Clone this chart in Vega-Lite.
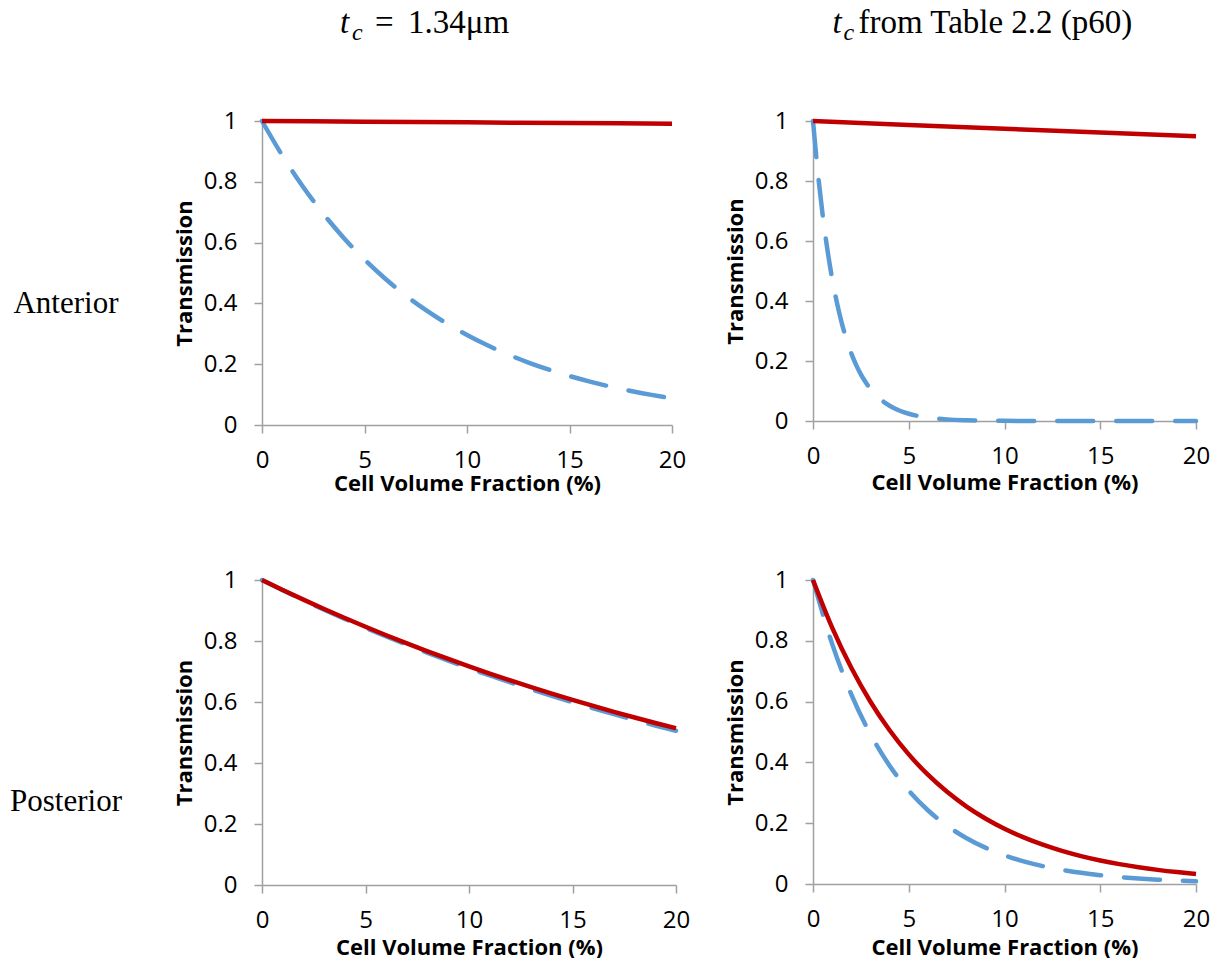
{
  "$schema": "https://vega.github.io/schema/vega-lite/v6.json",
  "padding": {"left": 7, "top": 7, "right": 5, "bottom": 0},
  "background": "white",
  "datasets": {
    "ant134": [
      {"x": 0, "T": 1, "series": "S1"}, {"x": 1, "T": 0.8854, "series": "S1"}, {"x": 2, "T": 0.7839, "series": "S1"}, {"x": 3, "T": 0.6941, "series": "S1"}, {"x": 4, "T": 0.6146, "series": "S1"}, {"x": 5, "T": 0.5442, "series": "S1"}, {"x": 6, "T": 0.4818, "series": "S1"}, {"x": 7, "T": 0.4266, "series": "S1"}, {"x": 8, "T": 0.3777, "series": "S1"}, {"x": 9, "T": 0.3344, "series": "S1"}, {"x": 10, "T": 0.2961, "series": "S1"}, {"x": 11, "T": 0.2622, "series": "S1"}, {"x": 12, "T": 0.2321, "series": "S1"}, {"x": 13, "T": 0.2055, "series": "S1"}, {"x": 14, "T": 0.182, "series": "S1"}, {"x": 15, "T": 0.1611, "series": "S1"}, {"x": 16, "T": 0.1427, "series": "S1"}, {"x": 17, "T": 0.1263, "series": "S1"}, {"x": 18, "T": 0.1118, "series": "S1"}, {"x": 19, "T": 0.099, "series": "S1"}, {"x": 20, "T": 0.0877, "series": "S1"},
      {"x": 0, "T": 1, "series": "S2"}, {"x": 5, "T": 0.9978, "series": "S2"}, {"x": 10, "T": 0.9955, "series": "S2"}, {"x": 15, "T": 0.9933, "series": "S2"}, {"x": 20, "T": 0.991, "series": "S2"}
    ],
    "antTable": [
      {"x": 0, "T": 1, "series": "S1"}, {"x": 0.25, "T": 0.8301, "series": "S1"}, {"x": 0.5, "T": 0.689, "series": "S1"}, {"x": 0.75, "T": 0.572, "series": "S1"}, {"x": 1, "T": 0.4747, "series": "S1"}, {"x": 1.25, "T": 0.3941, "series": "S1"}, {"x": 1.5, "T": 0.3271, "series": "S1"}, {"x": 1.75, "T": 0.2715, "series": "S1"}, {"x": 2, "T": 0.2254, "series": "S1"}, {"x": 2.25, "T": 0.1871, "series": "S1"}, {"x": 2.5, "T": 0.1553, "series": "S1"}, {"x": 2.75, "T": 0.1289, "series": "S1"}, {"x": 3, "T": 0.107, "series": "S1"}, {"x": 3.25, "T": 0.0888, "series": "S1"}, {"x": 3.5, "T": 0.0737, "series": "S1"}, {"x": 3.75, "T": 0.0612, "series": "S1"}, {"x": 4, "T": 0.0508, "series": "S1"}, {"x": 4.5, "T": 0.035, "series": "S1"}, {"x": 5, "T": 0.0241, "series": "S1"}, {"x": 5.5, "T": 0.0166, "series": "S1"}, {"x": 6, "T": 0.0114, "series": "S1"}, {"x": 7, "T": 0.0054, "series": "S1"}, {"x": 8, "T": 0.0026, "series": "S1"}, {"x": 9, "T": 0.0012, "series": "S1"}, {"x": 10, "T": 0.0006, "series": "S1"}, {"x": 12, "T": 0.0001, "series": "S1"}, {"x": 14, "T": 0, "series": "S1"}, {"x": 16, "T": 0, "series": "S1"}, {"x": 18, "T": 0, "series": "S1"}, {"x": 20, "T": 0, "series": "S1"},
      {"x": 0, "T": 1, "series": "S2"}, {"x": 5, "T": 0.987, "series": "S2"}, {"x": 10, "T": 0.974, "series": "S2"}, {"x": 15, "T": 0.962, "series": "S2"}, {"x": 20, "T": 0.949, "series": "S2"}
    ],
    "post134": [
      {"x": 0, "T": 1, "series": "S1"}, {"x": 1, "T": 0.9665, "series": "S1"}, {"x": 2, "T": 0.9341, "series": "S1"}, {"x": 3, "T": 0.9027, "series": "S1"}, {"x": 4, "T": 0.8725, "series": "S1"}, {"x": 5, "T": 0.8432, "series": "S1"}, {"x": 6, "T": 0.815, "series": "S1"}, {"x": 7, "T": 0.7876, "series": "S1"}, {"x": 8, "T": 0.7612, "series": "S1"}, {"x": 9, "T": 0.7357, "series": "S1"}, {"x": 10, "T": 0.7111, "series": "S1"}, {"x": 11, "T": 0.6872, "series": "S1"}, {"x": 12, "T": 0.6642, "series": "S1"}, {"x": 13, "T": 0.6419, "series": "S1"}, {"x": 14, "T": 0.6204, "series": "S1"}, {"x": 15, "T": 0.5996, "series": "S1"}, {"x": 16, "T": 0.5795, "series": "S1"}, {"x": 17, "T": 0.5601, "series": "S1"}, {"x": 18, "T": 0.5413, "series": "S1"}, {"x": 19, "T": 0.5231, "series": "S1"}, {"x": 20, "T": 0.5056, "series": "S1"},
      {"x": 0, "T": 1, "series": "S2"}, {"x": 1, "T": 0.9672, "series": "S2"}, {"x": 2, "T": 0.9356, "series": "S2"}, {"x": 3, "T": 0.9049, "series": "S2"}, {"x": 4, "T": 0.8753, "series": "S2"}, {"x": 5, "T": 0.8467, "series": "S2"}, {"x": 6, "T": 0.8189, "series": "S2"}, {"x": 7, "T": 0.7921, "series": "S2"}, {"x": 8, "T": 0.7662, "series": "S2"}, {"x": 9, "T": 0.7411, "series": "S2"}, {"x": 10, "T": 0.7168, "series": "S2"}, {"x": 11, "T": 0.6934, "series": "S2"}, {"x": 12, "T": 0.6706, "series": "S2"}, {"x": 13, "T": 0.6487, "series": "S2"}, {"x": 14, "T": 0.6274, "series": "S2"}, {"x": 15, "T": 0.6069, "series": "S2"}, {"x": 16, "T": 0.587, "series": "S2"}, {"x": 17, "T": 0.5678, "series": "S2"}, {"x": 18, "T": 0.5492, "series": "S2"}, {"x": 19, "T": 0.5312, "series": "S2"}, {"x": 20, "T": 0.5138, "series": "S2"}
    ],
    "postTable": [
      {"x": 0, "T": 1, "series": "S1"}, {"x": 1, "T": 0.7898, "series": "S1"}, {"x": 2, "T": 0.6237, "series": "S1"}, {"x": 3, "T": 0.4926, "series": "S1"}, {"x": 4, "T": 0.389, "series": "S1"}, {"x": 5, "T": 0.3073, "series": "S1"}, {"x": 6, "T": 0.2427, "series": "S1"}, {"x": 7, "T": 0.1916, "series": "S1"}, {"x": 8, "T": 0.1514, "series": "S1"}, {"x": 9, "T": 0.1195, "series": "S1"}, {"x": 10, "T": 0.0944, "series": "S1"}, {"x": 11, "T": 0.0746, "series": "S1"}, {"x": 12, "T": 0.0589, "series": "S1"}, {"x": 13, "T": 0.0465, "series": "S1"}, {"x": 14, "T": 0.0367, "series": "S1"}, {"x": 15, "T": 0.029, "series": "S1"}, {"x": 16, "T": 0.0229, "series": "S1"}, {"x": 17, "T": 0.0181, "series": "S1"}, {"x": 18, "T": 0.0143, "series": "S1"}, {"x": 19, "T": 0.0113, "series": "S1"}, {"x": 20, "T": 0.0089, "series": "S1"},
      {"x": 0, "T": 1, "series": "S2"}, {"x": 1, "T": 0.8432, "series": "S2"}, {"x": 2, "T": 0.7111, "series": "S2"}, {"x": 3, "T": 0.5996, "series": "S2"}, {"x": 4, "T": 0.5056, "series": "S2"}, {"x": 5, "T": 0.4263, "series": "S2"}, {"x": 6, "T": 0.3595, "series": "S2"}, {"x": 7, "T": 0.3032, "series": "S2"}, {"x": 8, "T": 0.2556, "series": "S2"}, {"x": 9, "T": 0.2156, "series": "S2"}, {"x": 10, "T": 0.1818, "series": "S2"}, {"x": 11, "T": 0.1533, "series": "S2"}, {"x": 12, "T": 0.1293, "series": "S2"}, {"x": 13, "T": 0.109, "series": "S2"}, {"x": 14, "T": 0.0919, "series": "S2"}, {"x": 15, "T": 0.0775, "series": "S2"}, {"x": 16, "T": 0.0654, "series": "S2"}, {"x": 17, "T": 0.0551, "series": "S2"}, {"x": 18, "T": 0.0465, "series": "S2"}, {"x": 19, "T": 0.0392, "series": "S2"}, {"x": 20, "T": 0.0331, "series": "S2"}
    ]
  },
  "columns": 3,
  "bounds": "flush",
  "spacing": {"row": 155, "column": 137},
  "concat": [
    {
      "width": 118, "height": 304,
      "data": {"values": [{"label": "Anterior"}]},
      "mark": {"type": "text", "font": "Liberation Serif", "fontSize": 31, "baseline": "alphabetic", "dy": 40, "color": "black"},
      "encoding": {"text": {"field": "label"}}
    },
    {
      "width": 410, "height": 304,
      "data": {"name": "ant134"},
      "layer": [
        {
          "transform": [{"filter": "datum.series === 'S1'"}],
          "mark": {"type": "line", "color": "#5B9BD5", "strokeWidth": 4.5, "strokeDash": [36, 23], "strokeCap": "round", "interpolate": "monotone"},
          "encoding": {
            "x": {"field": "x", "type": "quantitative", "scale": {"domain": [0, 20]}, "axis": {"title": "Cell Volume Fraction (%)", "values": [0, 5, 10, 15, 20], "titlePadding": 1}},
            "y": {"field": "T", "type": "quantitative", "scale": {"domain": [0, 1]}, "axis": {"title": "Transmission", "values": [0, 0.2, 0.4, 0.6, 0.8, 1], "format": "~g"}}
          }
        },
        {
          "transform": [{"filter": "datum.series === 'S2'"}],
          "mark": {"type": "line", "color": "#C00000", "strokeWidth": 4.5, "interpolate": "monotone"},
          "encoding": {"x": {"field": "x", "type": "quantitative"}, "y": {"field": "T", "type": "quantitative"}}
        },
        {
          "data": {"values": [{"label": "t"}]},
          "mark": {"type": "text", "font": "Liberation Serif", "fontStyle": "italic", "fontSize": 33, "align": "left", "baseline": "alphabetic", "dx": -127, "dy": -240, "color": "black"},
          "encoding": {"text": {"field": "label"}}
        },
        {
          "data": {"values": [{"label": "c"}]},
          "mark": {"type": "text", "font": "Liberation Serif", "fontStyle": "italic", "fontSize": 24, "align": "left", "baseline": "alphabetic", "dx": -115, "dy": -233, "color": "black"},
          "encoding": {"text": {"field": "label"}}
        },
        {
          "data": {"values": [{"label": "="}]},
          "mark": {"type": "text", "font": "Liberation Serif", "fontSize": 33, "align": "left", "baseline": "alphabetic", "dx": -92, "dy": -240, "color": "black"},
          "encoding": {"text": {"field": "label"}}
        },
        {
          "data": {"values": [{"label": "1.34μm"}]},
          "mark": {"type": "text", "font": "Liberation Serif", "fontSize": 33, "align": "left", "baseline": "alphabetic", "dx": -59, "dy": -240, "color": "black"},
          "encoding": {"text": {"field": "label"}}
        }
      ]
    },
    {
      "width": 383, "height": 300,
      "data": {"name": "antTable"},
      "layer": [
        {
          "transform": [{"filter": "datum.series === 'S1'"}],
          "mark": {"type": "line", "color": "#5B9BD5", "strokeWidth": 4.5, "strokeDash": [36, 23], "strokeCap": "round", "interpolate": "monotone"},
          "encoding": {
            "x": {"field": "x", "type": "quantitative", "scale": {"domain": [0, 20]}, "axis": {"title": "Cell Volume Fraction (%)", "values": [0, 5, 10, 15, 20], "titlePadding": 4}},
            "y": {"field": "T", "type": "quantitative", "scale": {"domain": [0, 1]}, "axis": {"title": "Transmission", "values": [0, 0.2, 0.4, 0.6, 0.8, 1], "format": "~g"}}
          }
        },
        {
          "transform": [{"filter": "datum.series === 'S2'"}],
          "mark": {"type": "line", "color": "#C00000", "strokeWidth": 4.5},
          "encoding": {"x": {"field": "x", "type": "quantitative"}, "y": {"field": "T", "type": "quantitative"}}
        },
        {
          "data": {"values": [{"label": "t"}]},
          "mark": {"type": "text", "font": "Liberation Serif", "fontStyle": "italic", "fontSize": 33, "align": "left", "baseline": "alphabetic", "dx": -172, "dy": -238, "color": "black"},
          "encoding": {"text": {"field": "label"}}
        },
        {
          "data": {"values": [{"label": "c"}]},
          "mark": {"type": "text", "font": "Liberation Serif", "fontStyle": "italic", "fontSize": 24, "align": "left", "baseline": "alphabetic", "dx": -161, "dy": -231, "color": "black"},
          "encoding": {"text": {"field": "label"}}
        },
        {
          "data": {"values": [{"label": "from Table 2.2 (p60)"}]},
          "mark": {"type": "text", "font": "Liberation Serif", "fontSize": 33, "align": "left", "baseline": "alphabetic", "dx": -146, "dy": -238, "color": "black"},
          "encoding": {"text": {"field": "label"}}
        }
      ]
    },
    {
      "width": 118, "height": 305,
      "data": {"values": [{"label": "Posterior"}]},
      "mark": {"type": "text", "font": "Liberation Serif", "fontSize": 31, "baseline": "alphabetic", "dy": 78, "color": "black"},
      "encoding": {"text": {"field": "label"}}
    },
    {
      "width": 414, "height": 305,
      "data": {"name": "post134"},
      "layer": [
        {
          "transform": [{"filter": "datum.series === 'S1'"}],
          "mark": {"type": "line", "color": "#5B9BD5", "strokeWidth": 4.5, "strokeDash": [36, 23], "strokeCap": "round", "interpolate": "monotone"},
          "encoding": {
            "x": {"field": "x", "type": "quantitative", "scale": {"domain": [0, 20]}, "axis": {"title": "Cell Volume Fraction (%)", "values": [0, 5, 10, 15, 20], "titlePadding": 5}},
            "y": {"field": "T", "type": "quantitative", "scale": {"domain": [0, 1]}, "axis": {"title": "Transmission", "values": [0, 0.2, 0.4, 0.6, 0.8, 1], "format": "~g"}}
          }
        },
        {
          "transform": [{"filter": "datum.series === 'S2'"}],
          "mark": {"type": "line", "color": "#C00000", "strokeWidth": 4.5, "interpolate": "monotone"},
          "encoding": {"x": {"field": "x", "type": "quantitative"}, "y": {"field": "T", "type": "quantitative"}}
        }
      ]
    },
    {
      "width": 383, "height": 304,
      "data": {"name": "postTable"},
      "layer": [
        {
          "transform": [{"filter": "datum.series === 'S1'"}],
          "mark": {"type": "line", "color": "#5B9BD5", "strokeWidth": 4.5, "strokeDash": [36, 23], "strokeCap": "round", "interpolate": "monotone"},
          "encoding": {
            "x": {"field": "x", "type": "quantitative", "scale": {"domain": [0, 20]}, "axis": {"title": "Cell Volume Fraction (%)", "values": [0, 5, 10, 15, 20], "titlePadding": 6}},
            "y": {"field": "T", "type": "quantitative", "scale": {"domain": [0, 1]}, "axis": {"title": "Transmission", "values": [0, 0.2, 0.4, 0.6, 0.8, 1], "format": "~g"}}
          }
        },
        {
          "transform": [{"filter": "datum.series === 'S2'"}],
          "mark": {"type": "line", "color": "#C00000", "strokeWidth": 4.5, "interpolate": "monotone"},
          "encoding": {"x": {"field": "x", "type": "quantitative"}, "y": {"field": "T", "type": "quantitative"}}
        }
      ]
    }
  ],
  "config": {
    "view": {"stroke": null},
    "axis": {
      "grid": false,
      "domainColor": "#A0A0A0",
      "domainWidth": 1.5,
      "tickColor": "#A0A0A0",
      "tickWidth": 1.5,
      "tickSize": 8,
      "labelFont": "Open Sans",
      "labelFontSize": 24,
      "labelColor": "black",
      "labelFlush": false,
      "labelOverlap": false,
      "titleFont": "Open Sans",
      "titleFontSize": 22,
      "titleFontWeight": "bold",
      "titleColor": "black"
    },
    "axisX": {"labelPadding": 15},
    "axisY": {"labelPadding": 17, "titlePadding": 7}
  }
}
